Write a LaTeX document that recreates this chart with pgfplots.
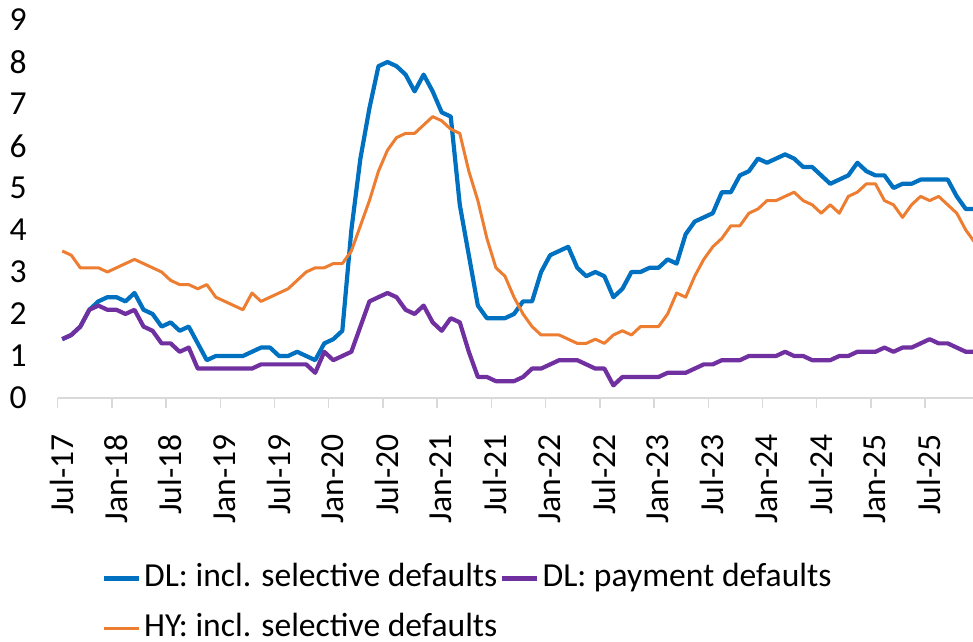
\documentclass[border=0pt]{standalone}
\usepackage{fontspec}
\setmainfont{Carlito}
\usepackage{pgfplots}
\pgfplotsset{compat=1.18}
\usepackage{pgfplotstable}
\definecolor{cblue}{HTML}{0070C0}
\definecolor{cpurple}{HTML}{7030A0}
\definecolor{corange}{HTML}{ED7D31}
\definecolor{cgrid}{HTML}{D9D9D9}
\newcommand\f{\fontsize{16.8pt}{20pt}\selectfont}

\pgfplotstableread{
i dl dlp hy
0 1.4 1.4 3.5
1 1.5 1.5 3.4
2 1.7 1.7 3.1
3 2.1 2.1 3.1
4 2.3 2.2 3.1
5 2.4 2.1 3.0
6 2.4 2.1 3.1
7 2.3 2.0 3.2
8 2.5 2.1 3.3
9 2.1 1.7 3.2
10 2.0 1.6 3.1
11 1.7 1.3 3.0
12 1.8 1.3 2.8
13 1.6 1.1 2.7
14 1.7 1.2 2.7
15 1.3 0.7 2.6
16 0.9 0.7 2.7
17 1.0 0.7 2.4
18 1.0 0.7 2.3
19 1.0 0.7 2.2
20 1.0 0.7 2.1
21 1.1 0.7 2.5
22 1.2 0.8 2.3
23 1.2 0.8 2.4
24 1.0 0.8 2.5
25 1.0 0.8 2.6
26 1.1 0.8 2.8
27 1.0 0.8 3.0
28 0.9 0.6 3.1
29 1.3 1.1 3.1
30 1.4 0.9 3.2
31 1.6 1.0 3.2
32 4.0 1.1 3.5
33 5.7 1.7 4.1
34 6.9 2.3 4.7
35 7.9 2.4 5.4
36 8.0 2.5 5.9
37 7.9 2.4 6.2
38 7.7 2.1 6.3
39 7.3 2.0 6.3
40 7.7 2.2 6.5
41 7.3 1.8 6.7
42 6.8 1.6 6.6
43 6.7 1.9 6.4
44 4.6 1.8 6.3
45 3.4 1.1 5.4
46 2.2 0.5 4.7
47 1.9 0.5 3.8
48 1.9 0.4 3.1
49 1.9 0.4 2.9
50 2.0 0.4 2.4
51 2.3 0.5 2.0
52 2.3 0.7 1.7
53 3.0 0.7 1.5
54 3.4 0.8 1.5
55 3.5 0.9 1.5
56 3.6 0.9 1.4
57 3.1 0.9 1.3
58 2.9 0.8 1.3
59 3.0 0.7 1.4
60 2.9 0.7 1.3
61 2.4 0.3 1.5
62 2.6 0.5 1.6
63 3.0 0.5 1.5
64 3.0 0.5 1.7
65 3.1 0.5 1.7
66 3.1 0.5 1.7
67 3.3 0.6 2.0
68 3.2 0.6 2.5
69 3.9 0.6 2.4
70 4.2 0.7 2.9
71 4.3 0.8 3.3
72 4.4 0.8 3.6
73 4.9 0.9 3.8
74 4.9 0.9 4.1
75 5.3 0.9 4.1
76 5.4 1.0 4.4
77 5.7 1.0 4.5
78 5.6 1.0 4.7
79 5.7 1.0 4.7
80 5.8 1.1 4.8
81 5.7 1.0 4.9
82 5.5 1.0 4.7
83 5.5 0.9 4.6
84 5.3 0.9 4.4
85 5.1 0.9 4.6
86 5.2 1.0 4.4
87 5.3 1.0 4.8
88 5.6 1.1 4.9
89 5.4 1.1 5.1
90 5.3 1.1 5.1
91 5.3 1.2 4.7
92 5.0 1.1 4.6
93 5.1 1.2 4.3
94 5.1 1.2 4.6
95 5.2 1.3 4.8
96 5.2 1.4 4.7
97 5.2 1.3 4.8
98 5.2 1.3 4.6
99 4.8 1.2 4.4
100 4.5 1.1 4.0
101 4.5 1.1 3.7
}\data

\begin{document}
\begin{tikzpicture}
\begin{axis}[name=ax, scale only axis, width=457.65pt, height=189pt,
  xmin=-0.5, xmax=100.8, ymin=0, ymax=9,
  axis x line*=bottom, axis y line*=left,
  y axis line style={draw=none},
  x axis line style={draw=cgrid, line width=0.7pt},
  xtick={-0.5,5.5,11.5,17.5,23.5,29.5,35.5,41.5,47.5,53.5,59.5,65.5,71.5,77.5,83.5,89.5,95.5},
  xticklabels={Jul-17,Jan-18,Jul-18,Jan-19,Jul-19,Jan-20,Jul-20,Jan-21,Jul-21,Jan-22,Jul-22,Jan-23,Jul-23,Jan-24,Jul-24,Jan-25,Jul-25},
  ytick={0,1,...,9},
  tick align=outside,
  major tick length=5pt,
  xtick style={draw=cgrid, line width=0.7pt},
  ytick style={draw=none},
  /pgf/number format/assume math mode=true,
  tick label style={font=\f, inner sep=0pt},
  yticklabel style={anchor=east, xshift=-10.3pt},
  xticklabel style={xshift=2pt, yshift=-13pt, rotate=90, anchor=east},
  legend columns=2,
  legend cell align=left,
  legend style={at={(axis description cs:0.0484,-0.4333)}, anchor=north west,
    draw=none, fill=none, inner sep=0pt, outer sep=0pt, font=\f,
    column sep=1.5pt, row sep=8.2pt,
    nodes={inner sep=0pt, text height=12.6pt, text depth=4.2pt}},
  legend image code/.code={\draw[#1] (0pt,0pt) -- (17.5pt,0pt);},
  line join=round,
]
\addplot[cblue, line width=2.1pt, mark=none] table[x=i, y=dl] {\data};
\addlegendentry{DL: incl. selective defaults}
\addplot[cpurple, line width=2.1pt, mark=none] table[x=i, y=dlp] {\data};
\addlegendentry{DL: payment defaults}
\addplot[corange, line width=1.5pt, mark=none] table[x=i, y=hy] {\data};
\addlegendentry{HY: incl. selective defaults}
\end{axis}
\pgfresetboundingbox
\path ([shift={(-28.85pt,-122pt)}]ax.south west) rectangle ([shift={(0pt,10pt)}]ax.north east);
\end{tikzpicture}
\end{document}
